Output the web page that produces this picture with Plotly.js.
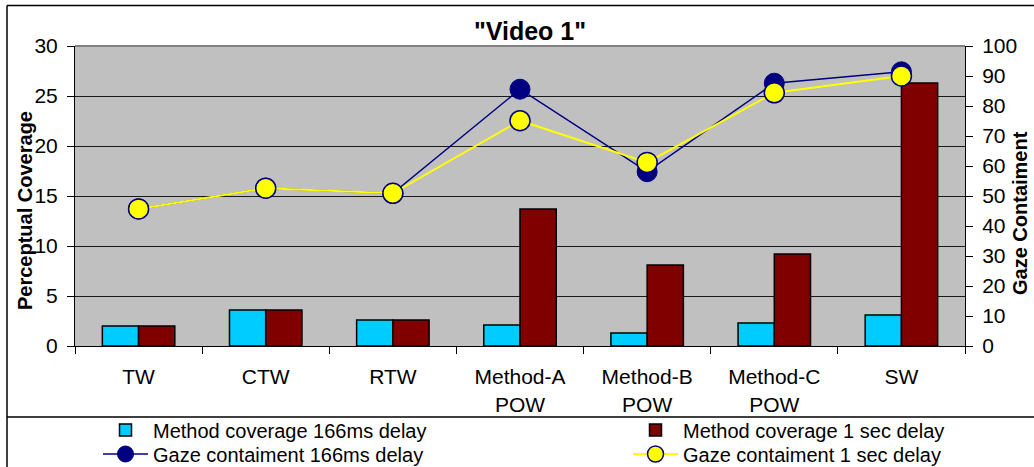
<!DOCTYPE html>
<html>
<head>
<meta charset="utf-8">
<script src="https://cdn.plot.ly/plotly-3.0.1.min.js"></script>
<style>
  html, body { margin: 0; padding: 0; background: #ffffff; }
  #chart { width: 1034px; height: 467px; }
</style>
</head>
<body>
<div id="chart"></div>
<script>
const categories = ['TW', 'CTW', 'RTW', 'Method-A<br>POW', 'Method-B<br>POW', 'Method-C<br>POW', 'SW'];
const coverage166 = [2.0, 3.6, 2.6, 2.1, 1.3, 2.3, 3.1];
const coverage1s = [2.0, 3.6, 2.6, 13.7, 8.1, 9.2, 26.3];
const gaze166 = [45.7, 52.6, 50.9, 85.6, 58.1, 87.6, 91.4];
const gaze1s = [45.7, 52.6, 50.9, 75.1, 61.2, 84.4, 90.0];
const seriesNames = [
  'Method coverage 166ms delay',
  'Method coverage 1 sec delay',
  'Gaze contaiment 166ms delay',
  'Gaze contaiment 1 sec delay'
];

const FONT = 'Liberation Sans, Arial, sans-serif';

// plot area in pixels: x 75..965, y 46..346
const L = 75, R = 965, T = 46, B = 346;
const px = v => (v - L) / (R - L);
const py = v => (B - v) / (B - T);

const traces = [
  { type: 'bar', name: seriesNames[0], x: categories, y: coverage166, legend: 'legend',
    marker: { color: '#00CCFF', line: { color: '#000000', width: 1.5 } } },
  { type: 'bar', name: seriesNames[1], x: categories, y: coverage1s, legend: 'legend2',
    marker: { color: '#800000', line: { color: '#000000', width: 1.5 } } },
  { type: 'scatter', mode: 'lines+markers', name: seriesNames[2], x: categories, y: gaze166,
    yaxis: 'y2', legend: 'legend3',
    line: { color: '#000080', width: 1.5 },
    marker: { color: '#000080', size: 20, line: { color: '#000080', width: 1 } } },
  { type: 'scatter', mode: 'lines+markers', name: seriesNames[3], x: categories, y: gaze1s,
    yaxis: 'y2', legend: 'legend4',
    line: { color: '#FFFF00', width: 2 },
    marker: { color: '#FFFF00', size: 20, line: { color: '#000080', width: 1.5 } } }
];

const legendBase = { bgcolor: 'rgba(0,0,0,0)', borderwidth: 0, xanchor: 'left', yanchor: 'middle',
  font: { family: FONT, size: 20, color: '#000000' }, orientation: 'v', itemwidth: 45 };

const layout = {
  width: 1034, height: 467,
  margin: { l: L, r: 1034 - R, t: T, b: 467 - B, pad: 0, autoexpand: false },
  paper_bgcolor: '#ffffff',
  plot_bgcolor: '#C0C0C0',
  font: { family: FONT, color: '#000000', size: 21 },
  title: { text: '"Video 1"', font: { family: FONT, size: 25, color: '#000000', weight: 'bold' },
    xref: 'paper', x: px(530), xanchor: 'center', yref: 'container', y: 1 - 31 / 467, yanchor: 'middle' },
  barmode: 'group', bargap: 0.43, bargroupgap: 0,
  showlegend: true,
  legend:  Object.assign({}, legendBase, { x: px(98), y: py(430) }),
  legend2: Object.assign({}, legendBase, { x: px(628), y: py(430) }),
  legend3: Object.assign({}, legendBase, { x: px(98), y: py(454) }),
  legend4: Object.assign({}, legendBase, { x: px(628), y: py(454) }),
  xaxis: {
    type: 'category', showline: true, linecolor: '#000000', linewidth: 1,
    ticks: 'outside', tickson: 'boundaries', ticklen: 7, tickcolor: '#000000', tickwidth: 1,
    ticklabelstandoff: 12,
    tickfont: { family: FONT, size: 21, color: '#000000' }, showgrid: false, automargin: false
  },
  yaxis: {
    range: [0, 30], dtick: 5, showline: true, linecolor: '#000000', linewidth: 1,
    ticks: 'outside', ticklen: 7, tickcolor: '#000000', ticklabelstandoff: 5,
    tickfont: { family: FONT, size: 21, color: '#000000' },
    showgrid: true, gridcolor: '#1a1a1a', gridwidth: 1, zeroline: false, automargin: false
  },
  yaxis2: {
    overlaying: 'y', side: 'right', range: [0, 100], dtick: 10,
    showline: true, linecolor: '#000000', linewidth: 1,
    ticks: 'outside', ticklen: 7, tickcolor: '#000000', ticklabelstandoff: 5,
    tickfont: { family: FONT, size: 21, color: '#000000' },
    showgrid: false, zeroline: false, automargin: false
  },
  annotations: [
    { text: '<b>Perceptual Coverage</b>', xref: 'paper', yref: 'paper', x: px(25), y: py(211),
      textangle: -90, showarrow: false, xanchor: 'center', yanchor: 'middle',
      font: { family: FONT, size: 20, color: '#000000' } },
    { text: '<b>Gaze Contaiment</b>', xref: 'paper', yref: 'paper', x: px(1020), y: py(213),
      textangle: -90, showarrow: false, xanchor: 'center', yanchor: 'middle',
      font: { family: FONT, size: 20, color: '#000000' } }
  ],
  shapes: [
    { type: 'line', xref: 'paper', yref: 'paper', x0: 0, x1: 1, y0: 1, y1: 1,
      line: { color: '#808080', width: 2 }, layer: 'above' },
    { type: 'line', xref: 'paper', yref: 'paper', x0: px(7), x1: px(1040), y0: py(5.5), y1: py(5.5),
      line: { color: '#000000', width: 1.5 } },
    { type: 'line', xref: 'paper', yref: 'paper', x0: px(7), x1: px(7), y0: py(5.5), y1: py(475),
      line: { color: '#000000', width: 1.5 } },
    { type: 'line', xref: 'paper', yref: 'paper', x0: px(7), x1: px(1040), y0: py(417), y1: py(417),
      line: { color: '#000000', width: 1.5 } }
  ]
};

Plotly.newPlot('chart', traces, layout, { displayModeBar: false, staticPlot: true });
</script>
</body>
</html>
